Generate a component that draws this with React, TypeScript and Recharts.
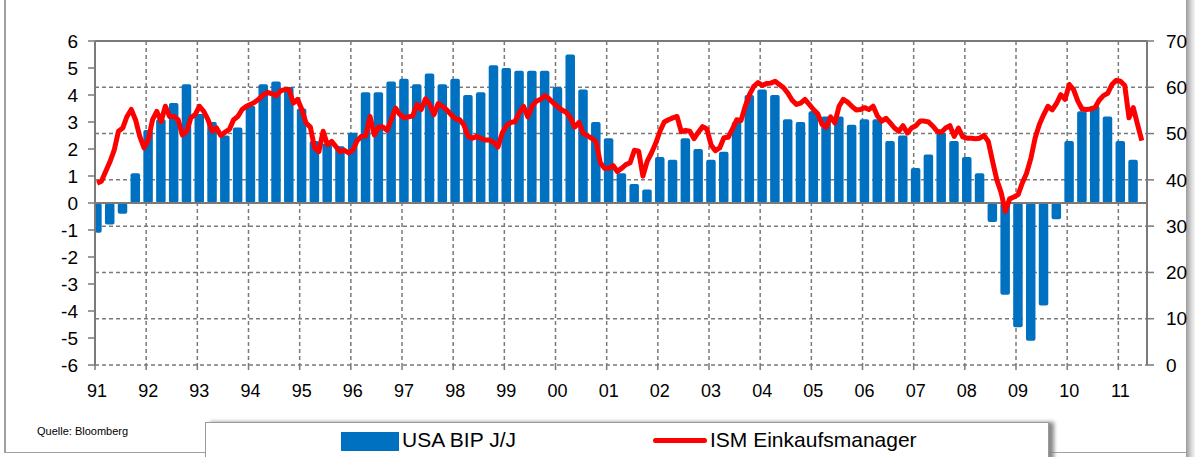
import React from 'react'
import {
  ComposedChart,
  Bar,
  Line,
  XAxis,
  YAxis,
  CartesianGrid,
  ReferenceLine,
} from 'recharts'

// US GDP y/y (%), quarterly 1991 Q1 .. 2011 Q2
const bipQuarterly = [
  -1.1, -0.8, -0.4, 1.1,
  2.7, 3.1, 3.7, 4.4,
  3.3, 3.0, 2.5, 2.8,
  3.6, 4.4, 4.5, 4.3,
  3.5, 2.3, 2.2, 2.1,
  2.6, 4.1, 4.1, 4.5,
  4.6, 4.4, 4.8, 4.4,
  4.6, 4.0, 4.1, 5.1,
  5.0, 4.9, 4.9, 4.9,
  4.3, 5.5, 4.2, 3.0,
  2.4, 1.1, 0.7, 0.5,
  1.7, 1.6, 2.4, 2.0,
  1.6, 1.9, 3.0, 4.0,
  4.2, 4.0, 3.1, 3.0,
  3.4, 3.2, 3.2, 2.9,
  3.1, 3.1, 2.3, 2.5,
  1.3, 1.8, 2.6, 2.3,
  1.7, 1.1, -0.7, -3.4,
  -4.6, -5.1, -3.8, -0.6,
  2.3, 3.4, 3.6, 3.2,
  2.3, 1.6,
]

// ISM manufacturing index, monthly Jan 1991 .. Jun 2011
const ismMonthly = [
  39.3, 39.7, 41.8, 43.9, 46.4, 50.5, 51.2, 53.7, 55.2, 53.0, 49.4, 46.9,
  48.7, 53.0, 54.8, 52.6, 55.9, 53.7, 53.7, 53.0, 49.7, 50.5, 53.4, 54.1,
  55.9, 54.8, 53.0, 50.5, 51.2, 49.6, 50.3, 50.9, 53.0, 53.7, 55.2, 55.9,
  56.3, 56.8, 57.5, 58.4, 58.9, 58.6, 58.2, 59.2, 59.5, 59.5, 56.6, 57.4,
  55.2, 52.3, 51.4, 46.9, 46.1, 50.5, 47.6, 48.3, 47.2, 46.1, 46.4, 45.8,
  46.5, 48.5, 49.4, 49.5, 53.7, 49.7, 51.4, 51.4, 50.7, 53.0, 55.5, 54.1,
  53.4, 53.6, 53.8, 56.3, 55.2, 57.5, 56.3, 54.1, 56.5, 55.9, 55.1, 54.1,
  53.2, 53.0, 51.9, 49.4, 49.0, 49.4, 49.0, 48.6, 48.6, 48.1, 47.1, 50.1,
  51.7, 52.4, 52.6, 54.5, 55.9, 53.6, 55.9, 57.0, 57.4, 58.2, 57.5, 56.6,
  55.8, 55.1, 54.6, 53.4, 51.4, 52.4, 50.0, 49.5, 49.0, 48.3, 43.7, 42.5,
  42.5, 43.1, 41.8, 42.5, 43.3, 43.7, 46.4, 46.2, 40.8, 44.0, 45.8, 47.9,
  50.5, 52.5, 53.0, 53.4, 53.7, 50.4, 50.7, 50.5, 48.9, 50.3, 51.5, 51.0,
  47.5, 46.3, 46.9, 49.1, 49.2, 51.0, 53.0, 52.8, 55.9, 58.4, 60.2, 61.0,
  60.4, 60.8, 60.9, 61.3, 60.6, 59.9, 58.7, 57.2, 56.3, 56.6, 57.4, 56.3,
  55.2, 54.3, 52.0, 51.4, 53.6, 52.3, 55.9, 57.4, 56.8, 55.9, 55.1, 55.2,
  55.6, 55.2, 55.9, 53.8, 52.7, 53.3, 52.3, 51.2, 50.5, 51.7, 50.1, 51.2,
  51.7, 52.7, 52.7, 52.5, 51.6, 50.5, 50.3, 51.2, 51.7, 49.4, 51.2, 49.3,
  49.0, 49.0, 48.9, 49.0, 49.6, 48.3, 44.0, 40.0, 37.3, 33.2, 35.9, 36.3,
  36.8, 39.4, 41.5, 44.7, 49.1, 52.0, 54.1, 55.9, 55.1, 56.5, 58.4, 57.4,
  60.6, 59.5, 57.0, 55.3, 55.2, 55.3, 55.6, 57.2, 58.2, 58.7, 60.6, 61.5,
  61.3, 60.4, 53.4, 55.6, 52.0, 48.5,
]

const startYear = 1991
const yearTicks = [
  1991, 1992, 1993, 1994, 1995, 1996, 1997, 1998, 1999, 2000, 2001,
  2002, 2003, 2004, 2005, 2006, 2007, 2008, 2009, 2010, 2011,
]
const leftTicks = [-6, -5, -4, -3, -2, -1, 0, 1, 2, 3, 4, 5, 6]
const rightTicks = [0, 10, 20, 30, 40, 50, 60, 70]

// one row per month, mid-month date; GDP sits on first month of each quarter
const data = ismMonthly.map((ism, m) => ({
  x: startYear + (m + 0.5) / 12,
  ism,
  bip: m % 3 === 0 ? bipQuarterly[m / 3] ?? null : null,
}))

const FONT = '"Liberation Sans", Arial, sans-serif'
const GRID = '#7a7a7a'
const BAR_W = 9.5
const PLOT_LEFT = 95

// recharts squeezes bars to the monthly band on a number axis,
// so redraw each one at the quarterly width around the same centre
const QuarterBar = (props: any) => {
  const { x, y, width, height, fill } = props
  if (x == null || y == null || !height) return null
  const cx = x + width / 2
  const top = Math.min(y, y + height)
  const h = Math.abs(height)
  // clip at the left axis like the original
  const left = Math.max(cx - BAR_W / 2, PLOT_LEFT)
  const w = cx + BAR_W / 2 - left
  return <rect x={left} y={top} width={w} height={h} rx={2} ry={2} fill={fill} />
}

export default function App() {
  return (
    <div
      style={{
        position: 'absolute',
        left: 0,
        top: 0,
        width: 1195,
        height: 457,
        background: '#fff',
        overflow: 'hidden',
        fontFamily: FONT,
      }}
    >
      {/* outer frame */}
      <div style={{ position: 'absolute', left: 4, top: 0, width: 2, height: 453, background: '#a0a0a0' }} />
      <div style={{ position: 'absolute', left: 4, top: 452, width: 1184, height: 1, background: '#a0a0a0' }} />
      <div
        style={{
          position: 'absolute',
          left: 1186,
          top: 0,
          width: 9,
          height: 457,
          background: 'linear-gradient(to right, #9a9a9a, #d8d8d8 60%, #f4f4f4)',
        }}
      />

      <ComposedChart
        width={1195}
        height={410}
        data={data}
        margin={{ top: 41, right: 0, bottom: 0, left: 0 }}
        style={{ position: 'absolute', left: 0, top: 0 }}
      >
        <CartesianGrid
          yAxisId="right"
          stroke={GRID}
          strokeWidth={1.5}
          strokeDasharray="4 3"
        />
        <XAxis
          dataKey="x"
          type="number"
          domain={[1991, 2011.56]}
          ticks={yearTicks}
          tickFormatter={(v: number) => String(v).slice(2)}
          axisLine={false}
          tickLine={{ stroke: GRID, strokeWidth: 1.5 }}
          tickSize={5}
          tickMargin={14}
          height={45}
          tick={{ fill: '#000', fontSize: 18, fontFamily: FONT, dx: 2 }}
          interval={0}
        />
        <YAxis
          yAxisId="left"
          orientation="left"
          domain={[-6, 6]}
          ticks={leftTicks}
          width={PLOT_LEFT}
          axisLine={{ stroke: GRID, strokeWidth: 2 }}
          tickLine={{ stroke: GRID, strokeWidth: 1.5 }}
          tickSize={7}
          tickMargin={10}
          tick={{ fill: '#000', fontSize: 19, fontFamily: FONT }}
          interval={0}
        />
        <YAxis
          yAxisId="right"
          orientation="right"
          domain={[0, 70]}
          ticks={rightTicks}
          width={48}
          axisLine={{ stroke: GRID, strokeWidth: 2 }}
          tickLine={{ stroke: GRID, strokeWidth: 1.5 }}
          tickSize={7}
          tickMargin={12}
          tick={{ fill: '#000', fontSize: 19, fontFamily: FONT }}
          interval={0}
        />
        <Bar
          yAxisId="left"
          dataKey="bip"
          fill="#0070c0"
          shape={QuarterBar}
          isAnimationActive={false}
        />
        <ReferenceLine yAxisId="left" y={0} stroke={GRID} strokeWidth={2} />
        <ReferenceLine yAxisId="right" y={70} stroke={GRID} strokeWidth={2} />
        <Line
          yAxisId="right"
          dataKey="ism"
          type="linear"
          stroke="#ff0000"
          strokeWidth={5}
          dot={false}
          activeDot={false}
          strokeLinejoin="round"
          isAnimationActive={false}
        />
      </ComposedChart>

      <div style={{ position: 'absolute', left: 37, top: 425, fontSize: 11, color: '#000' }}>
        Quelle: Bloomberg
      </div>

      {/* legend box */}
      <div
        style={{
          position: 'absolute',
          left: 205,
          top: 422,
          width: 842,
          height: 50,
          border: '1px solid #9a9a9a',
          background: '#fff',
          boxShadow: '5px 0 4px #8a8a8a',
        }}
      >
        <div
          style={{
            position: 'absolute',
            left: 135,
            top: 9,
            width: 58,
            height: 19,
            background: '#0070c0',
          }}
        />
        <div style={{ position: 'absolute', left: 196, top: 5, fontSize: 21, color: '#000', whiteSpace: 'nowrap' }}>
          USA BIP J/J
        </div>
        <div
          style={{
            position: 'absolute',
            left: 447,
            top: 15,
            width: 54,
            height: 5,
            borderRadius: 3,
            background: '#ff0000',
          }}
        />
        <div style={{ position: 'absolute', left: 504, top: 5, fontSize: 21, color: '#000', whiteSpace: 'nowrap' }}>
          ISM Einkaufsmanager
        </div>
      </div>
    </div>
  )
}
